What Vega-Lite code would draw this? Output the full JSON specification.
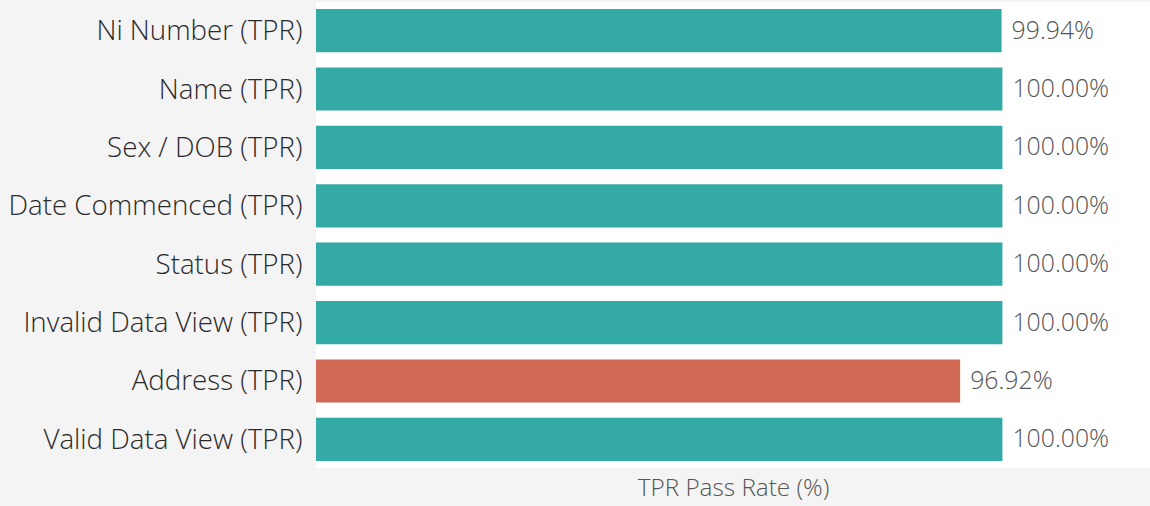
{
  "$schema": "https://vega.github.io/schema/vega-lite/v6.json",
  "width": 834,
  "height": 466,
  "autosize": {"type": "none"},
  "padding": {"left": 316, "top": 2, "right": 0, "bottom": 38},
  "background": "#f4f4f4",
  "config": {"view": {"fill": "white", "stroke": null}},
  "data": {
    "values": [
      {"check": "Ni Number (TPR)", "rate": 0.9994, "status": "pass"},
      {"check": "Name (TPR)", "rate": 1.0, "status": "pass"},
      {"check": "Sex / DOB (TPR)", "rate": 1.0, "status": "pass"},
      {"check": "Date Commenced (TPR)", "rate": 1.0, "status": "pass"},
      {"check": "Status (TPR)", "rate": 1.0, "status": "pass"},
      {"check": "Invalid Data View (TPR)", "rate": 1.0, "status": "pass"},
      {"check": "Address (TPR)", "rate": 0.9692, "status": "fail"},
      {"check": "Valid Data View (TPR)", "rate": 1.0, "status": "pass"}
    ]
  },
  "encoding": {
    "y": {
      "field": "check",
      "type": "nominal",
      "sort": null,
      "scale": {"paddingInner": 0.26, "paddingOuter": 0.12},
      "axis": {
        "title": null,
        "domain": false,
        "ticks": false,
        "grid": false,
        "labelFont": "Open Sans",
        "labelFontSize": 27.7,
        "labelFontWeight": 300,
        "labelColor": "#2a2a2a",
        "labelPadding": 14,
        "labelOffset": 1.5,
        "labelLimit": 400
      }
    },
    "x": {
      "field": "rate",
      "type": "quantitative",
      "scale": {"domain": [0.5, 1.1075], "nice": false, "zero": false},
      "axis": {
        "title": "TPR Pass Rate (%)",
        "labels": false,
        "ticks": false,
        "domain": false,
        "grid": false,
        "titleFont": "Open Sans",
        "titleFontSize": 24.3,
        "titleFontWeight": 300,
        "titleColor": "#555555",
        "titlePadding": 8
      }
    }
  },
  "layer": [
    {
      "mark": {"type": "bar", "clip": true},
      "encoding": {
        "color": {
          "field": "status",
          "type": "nominal",
          "scale": {"domain": ["pass", "fail"], "range": ["#33aaa5", "#d26955"]},
          "legend": null
        }
      }
    },
    {
      "mark": {"type": "text", "align": "left", "baseline": "middle", "dx": 10, "dy": 1, "font": "Open Sans", "fontSize": 24.8, "fontWeight": 300, "color": "#555555"},
      "encoding": {
        "text": {"field": "rate", "type": "quantitative", "format": ".2%"}
      }
    }
  ]
}
